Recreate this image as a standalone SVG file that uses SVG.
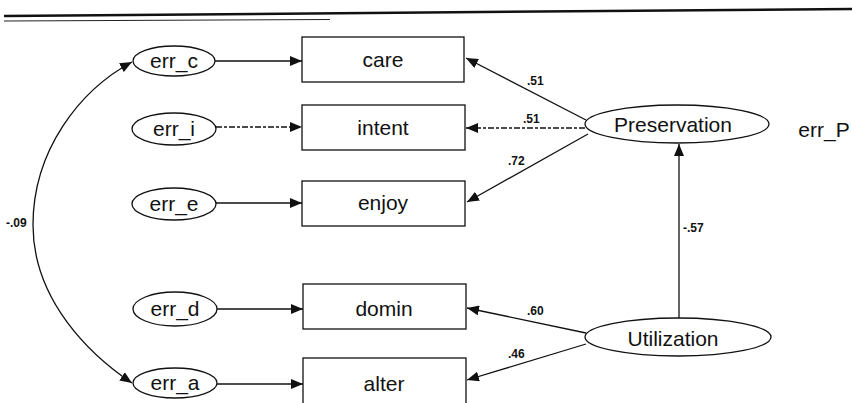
<svg xmlns="http://www.w3.org/2000/svg" width="852" height="403" viewBox="0 0 852 403">
<style>
.n{fill:#fff;stroke:#111;stroke-width:1.3}
.t{font-family:"Liberation Sans",Arial,sans-serif;font-size:21px;fill:#111;text-anchor:middle}
.l{font-family:"Liberation Sans",Arial,sans-serif;font-size:12px;font-weight:bold;fill:#111}
.c{fill:none;stroke:#111;stroke-width:1.3}
.d{stroke-dasharray:6 2 3 2}
</style>
<defs>
<marker id="ah" viewBox="0 0 12 10" refX="12" refY="5" markerWidth="12" markerHeight="10" markerUnits="userSpaceOnUse" orient="auto-start-reverse">
<path d="M0,0 L12,5 L0,10 Z" fill="#111"/>
</marker>
</defs>
<g id="rule">
<line x1="4" y1="16" x2="852" y2="9" stroke="#111" stroke-width="2.5"/>
<line x1="4" y1="21" x2="330" y2="19.5" stroke="#222" stroke-width="1"/>
</g>
<g id="connectors">
<line class="c" x1="215" y1="61" x2="302" y2="61" marker-end="url(#ah)"/>
<line class="c d" x1="216" y1="127" x2="302" y2="127" marker-end="url(#ah)"/>
<line class="c" x1="216" y1="203" x2="302" y2="203" marker-end="url(#ah)"/>
<line class="c" x1="217" y1="309" x2="303" y2="309" marker-end="url(#ah)"/>
<line class="c" x1="217" y1="384" x2="303" y2="384" marker-end="url(#ah)"/>
<line class="c" x1="586" y1="120" x2="466" y2="58" marker-end="url(#ah)"/>
<line class="c d" x1="585" y1="128" x2="466" y2="128" marker-end="url(#ah)"/>
<line class="c" x1="588" y1="134" x2="467" y2="202" marker-end="url(#ah)"/>
<line class="c" x1="586" y1="333" x2="467" y2="308" marker-end="url(#ah)"/>
<line class="c" x1="586" y1="344" x2="467" y2="380" marker-end="url(#ah)"/>
<line class="c" x1="679" y1="318" x2="679" y2="144" marker-end="url(#ah)"/>
<path class="c" d="M132,62 C80,90 33,150 33,225 C33,300 90,355 132,383" marker-start="url(#ah)" marker-end="url(#ah)"/>
<text class="l" x="527" y="85">.51</text>
<text class="l" x="523" y="123">.51</text>
<text class="l" x="508" y="165">.72</text>
<text class="l" x="527" y="315">.60</text>
<text class="l" x="508" y="358">.46</text>
<text class="l" x="683" y="232">-.57</text>
<text class="l" x="6" y="227">-.09</text>
</g>
<g id="err_c"><ellipse class="n" cx="174" cy="61" rx="41" ry="15"/><text class="t" x="174" y="68">err_c</text></g>
<g id="err_i"><ellipse class="n" cx="174" cy="129" rx="42" ry="16"/><text class="t" x="174" y="136">err_i</text></g>
<g id="err_e"><ellipse class="n" cx="174" cy="204" rx="42" ry="16"/><text class="t" x="174" y="211">err_e</text></g>
<g id="err_d"><ellipse class="n" cx="175" cy="309" rx="42" ry="17"/><text class="t" x="175" y="316">err_d</text></g>
<g id="err_a"><ellipse class="n" cx="175" cy="383" rx="42" ry="15"/><text class="t" x="175" y="390">err_a</text></g>
<g id="care"><rect class="n" x="302" y="37" width="162" height="45"/><text class="t" x="383" y="67">care</text></g>
<g id="intent"><rect class="n" x="302" y="105" width="163" height="45"/><text class="t" x="383" y="135">intent</text></g>
<g id="enjoy"><rect class="n" x="302" y="181" width="163" height="45"/><text class="t" x="383" y="210">enjoy</text></g>
<g id="domin"><rect class="n" x="303" y="284" width="163" height="45"/><text class="t" x="384" y="316">domin</text></g>
<g id="alter"><rect class="n" x="303" y="358" width="163" height="50"/><text class="t" x="384" y="391">alter</text></g>
<g id="Preservation"><ellipse class="n" cx="677" cy="124" rx="92" ry="19"/><text class="t" x="673" y="132">Preservation</text></g>
<g id="Utilization"><ellipse class="n" cx="678" cy="337" rx="93" ry="19"/><text class="t" x="673" y="346">Utilization</text></g>
<g id="err_P"><text class="t" x="824" y="137">err_P</text></g>
</svg>
